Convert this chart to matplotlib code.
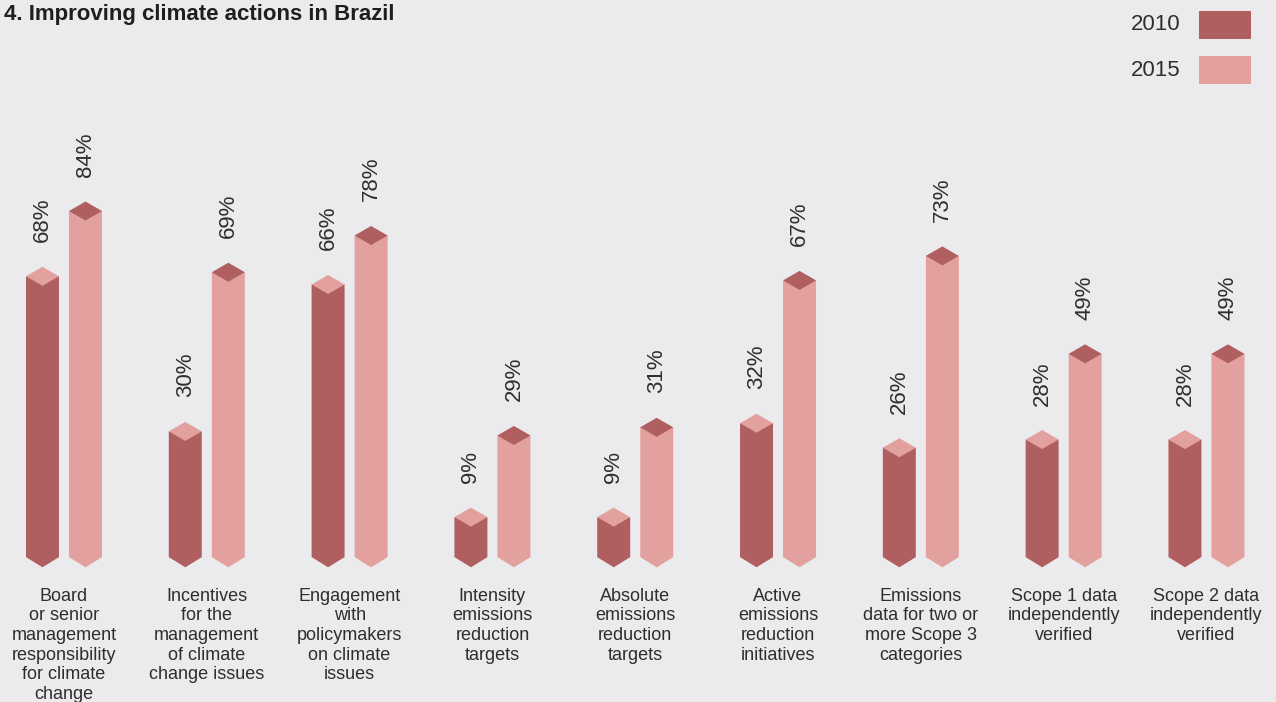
import numpy as np
import matplotlib.pyplot as plt
from matplotlib.patches import Polygon, Rectangle

plt.rcParams['font.family'] = ['Liberation Sans', 'DejaVu Sans']

categories = [
    "Board\nor senior\nmanagement\nresponsibility\nfor climate\nchange",
    "Incentives\nfor the\nmanagement\nof climate\nchange issues",
    "Engagement\nwith\npolicymakers\non climate\nissues",
    "Intensity\nemissions\nreduction\ntargets",
    "Absolute\nemissions\nreduction\ntargets",
    "Active\nemissions\nreduction\ninitiatives",
    "Emissions\ndata for two or\nmore Scope 3\ncategories",
    "Scope 1 data\nindependently\nverified",
    "Scope 2 data\nindependently\nverified",
]
years = ["2010", "2015"]
vals_2010 = [68, 30, 66, 9, 9, 32, 26, 28, 28]
vals_2015 = [84, 69, 78, 29, 31, 67, 73, 49, 49]

DARK = "#B05F60"
LIGHT = "#E2A19F"
BG = "#EBEBED"
TXT = "#2E2E2E"

fig = plt.figure(figsize=(12.76, 7.02), dpi=100, facecolor=BG)
ax = fig.add_axes([0, 0, 1, 1])
ax.set_facecolor(BG)
ax.set_xlim(-0.448, 8.487)
ax.set_ylim(-36.3, 135.7)
ax.axis('off')

half_w = 0.1155    # half bar width (category units)
offset = 0.1506    # bar centre offset from group centre
cap = 2.33         # half height of the top diamond (percent units)
foot_edge, foot_tip = -0.8, -3.3


def column(x, v, body, top):
    # prism body with a pointed foot, then the diamond cap
    ax.add_patch(Polygon([(x - half_w, foot_edge), (x, foot_tip), (x + half_w, foot_edge),
                          (x + half_w, v), (x - half_w, v)], closed=True,
                         facecolor=body, edgecolor='none'))
    ax.add_patch(Polygon([(x - half_w, v), (x, v + cap), (x + half_w, v), (x, v - cap)],
                         closed=True, facecolor=top, edgecolor='none'))
    ax.text(x, v + cap + 6.0, f"{v}%", rotation=90, ha='center', va='bottom',
            fontsize=16, color=TXT)


for i, (a, b) in enumerate(zip(vals_2010, vals_2015)):
    column(i - offset, a, DARK, LIGHT)
    column(i + offset, b, LIGHT, DARK)
    ax.text(i, -8.3, categories[i], ha='center', va='top', fontsize=13,
            color=TXT, linespacing=1.2)

fig.text(0.003, 0.994, "4. Improving climate actions in Brazil", ha='left', va='top',
         fontsize=16, fontweight='bold', color='#1E1E1E')

# legend swatches
for k, (lab, col) in enumerate(zip(years, [DARK, LIGHT])):
    y0 = 1 - (39 + 45 * k) / 702
    fig.add_artist(Rectangle((1199 / 1276, y0), 52 / 1276, 28 / 702,
                             transform=fig.transFigure, facecolor=col, edgecolor='none'))
    fig.text(1181 / 1276, y0 + 14 / 702, lab, ha='right', va='center',
             fontsize=16, color=TXT)

fig.savefig("out.png", dpi=100, facecolor=BG)
